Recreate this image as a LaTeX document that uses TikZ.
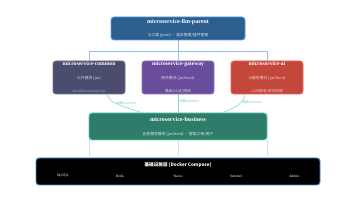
\documentclass[tikz,border=0pt]{standalone}
\usepackage{fontspec}
\setmainfont{Liberation Serif}
\newfontfamily\cjk{Noto Sans CJK SC}
\definecolor{parentfill}{HTML}{2D5F8E}
\definecolor{parentline}{HTML}{5A9BE0}
\definecolor{commonfill}{HTML}{4B4D6E}
\definecolor{commonline}{HTML}{6E7192}
\definecolor{gatewayfill}{HTML}{6A4C9C}
\definecolor{gatewayline}{HTML}{8B6EC2}
\definecolor{aifill}{HTML}{C4473B}
\definecolor{ailine}{HTML}{E8604F}
\definecolor{bizfill}{HTML}{2E7D6A}
\definecolor{bizline}{HTML}{5FCFA5}
\definecolor{infraline}{HTML}{4A90E2}
\definecolor{treeline}{HTML}{8FBEF0}
\definecolor{paleline}{HTML}{CDE0F7}
\definecolor{depline}{HTML}{7FDCB8}
\begin{document}
\begin{tikzpicture}[
x=1pt, y=-1pt,
module/.style={rectangle, rounded corners=3pt, line width=0.9pt, text=white, align=center, inner sep=0pt},
tree/.style={draw=treeline, line width=0.8pt},
dep/.style={draw=depline, line width=0.6pt},
deplabel/.style={text=bizline, font=\cjk\fontsize{3.2}{4}\selectfont, inner sep=1pt},
infra/.style={text=white, font=\fontsize{3.6}{4}\selectfont}
]
\useasboundingbox (0,0) rectangle (356,200);

\node[module, fill=parentfill, draw=parentline, minimum width=134pt, minimum height=23pt] (parent) at (178,28.5)
  {{\fontsize{6}{7}\selectfont\bfseries microservice-llm-parent}\\[1.5pt]
   {\cjk\fontsize{3.8}{4.5}\selectfont\color{white!85!parentfill} 父工程 (pom) · 版本管理/插件管理}};

\node[module, fill=commonfill, draw=commonline, minimum width=72pt, minimum height=33pt] (common) at (89,77.5)
  {{\fontsize{5.6}{7}\selectfont\bfseries microservice-common}\\[1.6pt]
   {\cjk\fontsize{3.8}{4.5}\selectfont\color{white!75!commonfill} 公共模块 (jar)}\\[0.8pt]
   {\fontsize{3.6}{4.5}\selectfont\color{white!55!commonfill} Result/Exception/Utils}};

\node[module, fill=gatewayfill, draw=gatewayline, minimum width=72pt, minimum height=33pt] (gateway) at (178,77.5)
  {{\fontsize{5.6}{7}\selectfont\bfseries microservice-gateway}\\[1.6pt]
   {\cjk\fontsize{3.8}{4.5}\selectfont\color{white!75!gatewayfill} 网关模块 (jar/boot)}\\[0.8pt]
   {\cjk\fontsize{3.8}{4.5}\selectfont\color{white!75!gatewayfill} 路由/认证/限流}};

\node[module, fill=aifill, draw=ailine, minimum width=72pt, minimum height=33pt] (ai) at (267,77.5)
  {{\fontsize{5.6}{7}\selectfont\bfseries microservice-ai}\\[1.6pt]
   {\cjk\fontsize{3.8}{4.5}\selectfont\color{white!75!aifill} AI服务模块 (jar/boot)}\\[0.8pt]
   {\cjk\fontsize{3.8}{4.5}\selectfont\color{white!75!aifill} LLM调用/流式处理}};

\node[module, fill=bizfill, draw=bizline, minimum width=178pt, minimum height=27pt] (business) at (178,126.5)
  {{\fontsize{6}{7}\selectfont\bfseries microservice-business}\\[2pt]
   {\cjk\fontsize{3.8}{4.5}\selectfont\color{white!85!bizfill} 业务服务模块 (jar/boot) · 智能工单/用户}};

\node[module, fill=black, draw=infraline, minimum width=284pt, minimum height=27pt] (infra) at (178,171.5) {};
\node[text=white, font=\cjk\fontsize{4.6}{5}\selectfont\bfseries] (infratitle) at (178,165) {基础设施层 (Docker Compose)};
\node[infra] (mysql) at (63,176) {MySQL};
\node[infra] (redis) at (120,176) {Redis};
\node[infra] (nacos) at (178,176) {Nacos};
\node[infra] (sentinel) at (236,176) {Sentinel};
\node[infra] (admin) at (294,176) {Admin};

% parent -> modules
\coordinate (split) at (178,51);
\draw[tree] (parent) -- (split);
\foreach \m in {common,gateway,ai}
  \draw[tree] (split) -| (\m.north);

% dependencies
\draw[dep] ([xshift=18pt]common.south) .. controls +(2,9) and +(-16,-5) .. node[deplabel, pos=0.4, right] {依赖common} ([xshift=-36pt]business.north);
\draw[dep] (gateway) -- node[deplabel, right, pos=0.4] {依赖common} (business);
\draw[dep] ([xshift=-22pt]ai.south) .. controls +(-1,9) and +(12,-5) .. node[deplabel, pos=0.35, right] {依赖common} ([xshift=45pt]business.north);

% business -> infrastructure
\foreach \m in {common,gateway,ai}
  \draw[draw=paleline, line width=0.8pt] (business.south -| \m) -- (infra.north -| \m);
\end{tikzpicture}
\end{document}
